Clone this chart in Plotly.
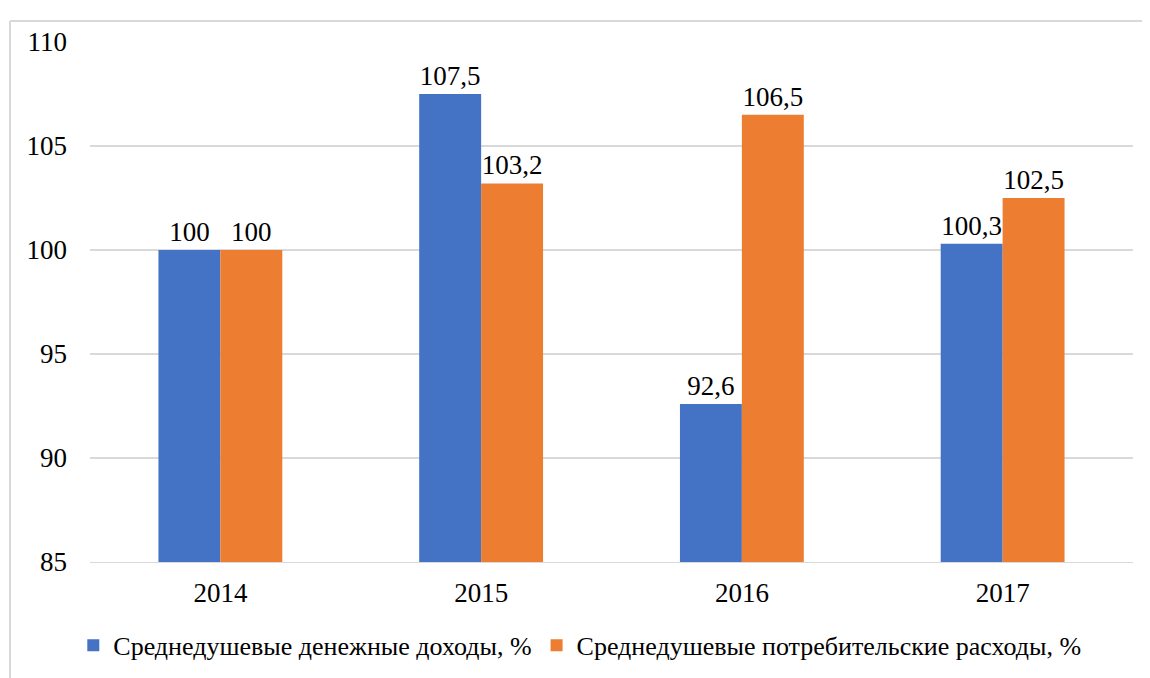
import plotly.graph_objects as go

# ---------------------------------------------------------------------------
# Data
# ---------------------------------------------------------------------------
years = ["2014", "2015", "2016", "2017"]
income = [100, 107.5, 92.6, 100.3]
spending = [100, 103.2, 106.5, 102.5]
y_ticks = [85, 90, 95, 100, 105, 110]

series_names = [
    "Среднедушевые денежные доходы, %",
    "Среднедушевые потребительские расходы, %",
]

FONT = "Liberation Serif"
SIZE = 27
BLUE = "#4472C4"
ORANGE = "#ED7D31"
GRID = "#d9d9d9"


def _label(v: float) -> str:
    return f"{v:g}".replace(".", ",")


fig = go.Figure()
for name, vals, color in [
    (series_names[0], income, BLUE),
    (series_names[1], spending, ORANGE),
]:
    fig.add_trace(go.Bar(
        x=years, y=vals, name=name,
        marker=dict(color=color, line=dict(width=0)),
        text=[_label(v) for v in vals],
        textposition="outside",
        textfont=dict(family=FONT, size=SIZE, color="black"),
        cliponaxis=False,
    ))

# page body has an 8px margin, so the figure is sized to fit the window
fig.update_layout(
    width=1142, height=670,
    margin=dict(l=82, r=17, t=34, b=116, autoexpand=False),
    paper_bgcolor="white", plot_bgcolor="white",
    font=dict(family=FONT, size=SIZE, color="black"),
    barmode="group",
    bargap=0.525, bargroupgap=0,
    showlegend=True,
    legend=dict(
        orientation="h", x=-0.016, xanchor="left",
        y=-0.115, yanchor="top",
        font=dict(family=FONT, size=26, color="black"),
        itemwidth=30,
    ),
    shapes=[
        # outer frame: top and left edges
        dict(type="line", xref="paper", yref="paper",
             x0=-0.0767, x1=1.05, y0=1.0404, y1=1.0404,
             line=dict(color=GRID, width=2)),
        dict(type="line", xref="paper", yref="paper",
             x0=-0.0767, x1=-0.0767, y0=1.0404, y1=-0.23,
             line=dict(color=GRID, width=2)),
    ],
)
fig.update_xaxes(
    showgrid=False, showline=True, linecolor=GRID, linewidth=1,
    ticks="", ticklabelstandoff=7,
)
fig.update_yaxes(
    range=[85, 110], tickvals=y_ticks,
    showgrid=True, gridcolor=GRID, gridwidth=1.5,
    zeroline=False, showline=False, ticks="",
    ticklabelstandoff=22,
)

fig.write_html("out.html")
